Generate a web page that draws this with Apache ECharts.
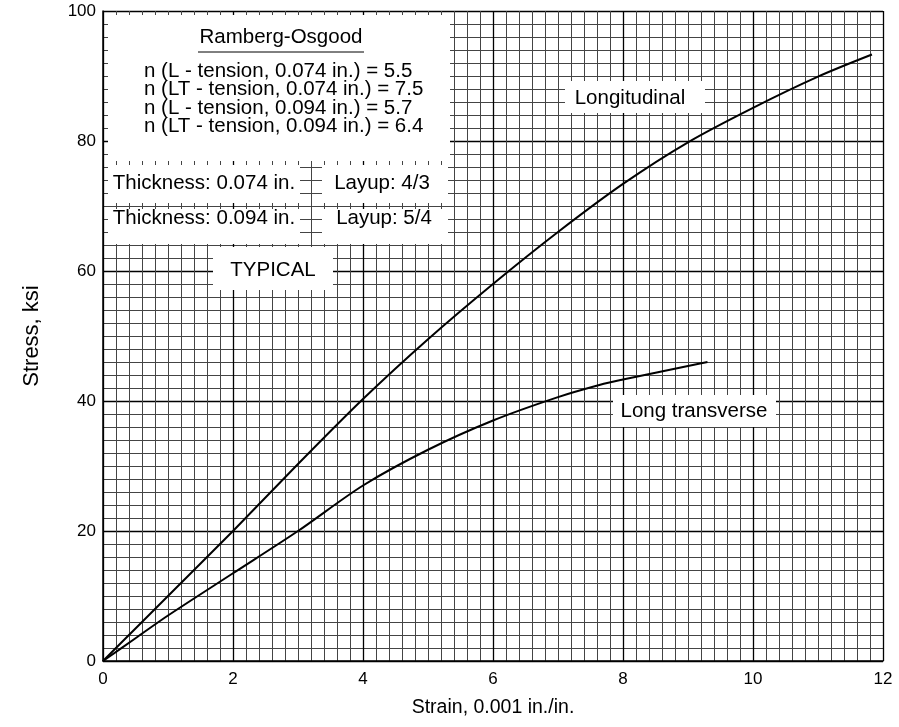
<!DOCTYPE html>
<html>
<head>
<meta charset="utf-8">
<script src="https://cdn.jsdelivr.net/npm/echarts@6/dist/echarts.min.js"></script>
<style>html,body{margin:0;padding:0;background:#fff;}#c{width:899px;height:727px;}</style>
</head>
<body>
<div id="c"></div>
<script>
var longitudinal = [[0,0],[0.5,5],[1,10],[2,20],[3,30.3],[4,40.3],[5,49.5],[6,58],[7,66],[8,73.4],[9,79.8],[10,85.1],[11,89.9],[11.83,93.3]];
var longTransverse = [[0,0],[0.5,3.5],[1,7],[2,13.5],[3,20],[4,27],[5,32.5],[6,37],[7,40.6],[7.65,42.5],[8,43.3],[9,45.4],[9.3,46]];
var xTicks = [0,2,4,6,8,10,12];
var yTicks = [0,20,40,60,80,100];
var noteLines = ['n (L - tension, 0.074 in.) = 5.5','n (LT - tension, 0.074 in.) = 7.5','n (L - tension, 0.094 in.) = 5.7','n (LT - tension, 0.094 in.) = 6.4'];

var FONT = 'Liberation Sans, Arial, sans-serif';
var chart = echarts.init(document.getElementById('c'), null, {renderer:'canvas'});

function box(x,y,w,h){return {type:'rect',shape:{x:x,y:y,width:w,height:h},style:{fill:'#fff'},z:100};}
function txt(x,y,s,align,fs){return {type:'text',x:x,y:y,style:{text:s,font:(fs||20.5)+'px '+FONT,fill:'#000',textAlign:align||'center',textVerticalAlign:'middle'},z:101};}

var g = [
  box(108,15,342,146),
  box(108,165,192,38),
  box(322,165,126,38),
  box(108,209,192,35),
  box(322,209,126,35),
  box(213,247,120,43),
  box(565,81,140,32),
  box(613,395,163,32),
  txt(281,37,'Ramberg-Osgood'),
  {type:'line',shape:{x1:198,y1:52,x2:364,y2:52},style:{stroke:'#000',lineWidth:1},z:101},
  txt(144,71,noteLines[0],'left',20.5),
  txt(144,89.5,noteLines[1],'left',20.5),
  txt(144,108,noteLines[2],'left',20.5),
  txt(144,126.5,noteLines[3],'left',20.5),
  txt(204,183,'Thickness: 0.074 in.'),
  txt(382,183,'Layup: 4/3'),
  txt(204,218,'Thickness: 0.094 in.'),
  txt(384,218,'Layup: 5/4'),
  txt(273,270,'TYPICAL'),
  txt(630,98,'Longitudinal'),
  txt(694,411,'Long transverse')
];

chart.setOption({
  animation:false,
  backgroundColor:'#fff',
  grid:{left:103,top:11,right:16,bottom:66,containLabel:false},
  xAxis:{type:'value',min:0,max:12,interval:2,
    name:'Strain, 0.001 in./in.',nameLocation:'middle',nameGap:37,
    nameTextStyle:{fontFamily:FONT,fontSize:19.5,color:'#000'},
    axisLine:{show:true,lineStyle:{color:'#000',width:1.5}},
    axisTick:{show:false},
    axisLabel:{fontFamily:FONT,fontSize:17,color:'#000',margin:10,formatter:function(v){return xTicks.indexOf(v)>=0?String(v):'';}},
    splitLine:{show:true,lineStyle:{color:'#000',width:1.3}},
    minorTick:{show:false,splitNumber:10},
    minorSplitLine:{show:true,lineStyle:{color:'#444',width:1}}
  },
  yAxis:{type:'value',min:0,max:100,interval:20,
    name:'Stress, ksi',nameLocation:'middle',nameGap:60,
    nameTextStyle:{fontFamily:FONT,fontSize:22,color:'#000'},
    axisLine:{show:true,lineStyle:{color:'#000',width:1.5}},
    axisTick:{show:false},
    axisLabel:{fontFamily:FONT,fontSize:17,color:'#000',margin:7,formatter:function(v){return yTicks.indexOf(v)>=0?String(v):'';}},
    splitLine:{show:true,lineStyle:{color:'#000',width:1.3}},
    minorTick:{show:false,splitNumber:10},
    minorSplitLine:{show:true,lineStyle:{color:'#444',width:1}}
  },
  series:[
    {type:'line',data:longitudinal,smooth:0.3,showSymbol:false,lineStyle:{color:'#000',width:2},z:50},
    {type:'line',data:longTransverse,smooth:0.3,showSymbol:false,lineStyle:{color:'#000',width:2},z:50}
  ],
  graphic:g
});
</script>
</body>
</html>
